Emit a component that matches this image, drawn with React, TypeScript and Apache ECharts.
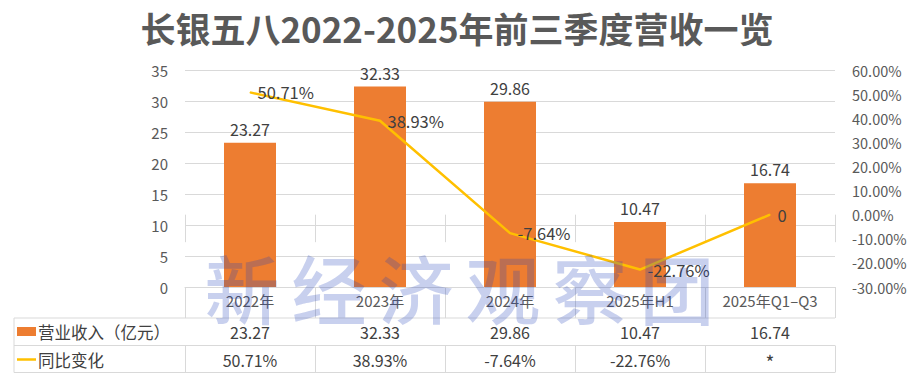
import React, { useEffect, useRef } from "react";
import * as echarts from "echarts";

const TITLE = "长银五八2022-2025年前三季度营收一览";
const WATERMARK = "新经济观察团";
const categories = ["2022年", "2023年", "2024年", "2025年H1", "2025年Q1–Q3"];
const revenue = [23.27, 32.33, 29.86, 10.47, 16.74];
const growth = [50.71, 38.93, -7.64, -22.76, 0];
const growthPointLabels = ["50.71%", "38.93%", "-7.64%", "-22.76%", "0"];
const revenueTableRow = ["23.27", "32.33", "29.86", "10.47", "16.74"];
const growthTableRow = ["50.71%", "38.93%", "-7.64%", "-22.76%", "*"];
const seriesNames = ["营业收入（亿元）", "同比变化"];

const FONT = "'Noto Sans CJK SC', 'Noto Sans', sans-serif";
const GRID_COLOR = "#d9d9d9";
const AXIS_TEXT = "#595959";
const LABEL_TEXT = "#404040";
const BAR_COLOR = "#ED7D31";
const LINE_COLOR = "#FFC000";

export default function App() {
  const ref = useRef<HTMLDivElement>(null);
  useEffect(() => {
    if (!ref.current) return;
    const chart = echarts.init(ref.current, null, { renderer: "svg" });
    const tableLeft = 14;
    const tableRight = 835;
    const rowLines = [318, 345.5, 372.5];

    const watermark = WATERMARK.split("").map((ch, i) => ({
      type: "text",
      x: 242 + i * 87,
      y: 286,
      z: 100,
      silent: true,
      style: {
        text: ch,
        fontSize: 75,
        fontWeight: 500,
        fontFamily: FONT,
        fill: "rgba(35,67,187,0.25)",
        textAlign: "center",
        textVerticalAlign: "middle",
      },
    }));

    const graphics: any[] = [
      ...rowLines.map((y) => ({
        type: "line",
        shape: { x1: tableLeft, y1: y, x2: tableRight, y2: y },
        style: { stroke: GRID_COLOR, lineWidth: 1 },
      })),
      {
        type: "line",
        shape: { x1: tableLeft, y1: rowLines[0], x2: tableLeft, y2: rowLines[2] },
        style: { stroke: GRID_COLOR, lineWidth: 1 },
      },
      {
        type: "rect",
        shape: { x: 17, y: 327, width: 19, height: 9 },
        style: { fill: BAR_COLOR },
      },
      {
        type: "line",
        shape: { x1: 17, y1: 359.5, x2: 36, y2: 359.5 },
        style: { stroke: LINE_COLOR, lineWidth: 2.5 },
      },
      {
        type: "text",
        x: 38,
        y: 332,
        style: {
          text: seriesNames[0],
          fontSize: 16.5,
          fontFamily: FONT,
          fill: LABEL_TEXT,
          textVerticalAlign: "middle",
        },
      },
      {
        type: "text",
        x: 38,
        y: 359.5,
        style: {
          text: seriesNames[1],
          fontSize: 16.5,
          fontFamily: FONT,
          fill: LABEL_TEXT,
          textVerticalAlign: "middle",
        },
      },
      ...watermark,
    ];

    const tick = (len: number) => ({
      show: true,
      interval: 0,
      length: len,
      lineStyle: { color: GRID_COLOR, width: 1 },
    });

    chart.setOption({
      animation: false,
      textStyle: { fontFamily: FONT },
      title: {
        text: TITLE,
        left: "center",
        top: 5,
        textStyle: { fontSize: 35, fontWeight: "bold", color: AXIS_TEXT, fontFamily: FONT },
      },
      grid: { left: 185, right: 79, top: 70, bottom: 91, containLabel: false },
      xAxis: [
        {
          type: "category",
          data: categories,
          axisLine: { lineStyle: { color: GRID_COLOR, width: 1 } },
          axisTick: tick(31),
          axisLabel: { fontSize: 15, color: AXIS_TEXT, margin: 6, interval: 0 },
        },
        {
          type: "category",
          position: "bottom",
          offset: 31,
          data: revenueTableRow,
          axisLine: { show: false },
          axisTick: tick(27.5),
          axisLabel: { fontSize: 16, color: LABEL_TEXT, margin: 6, interval: 0 },
        },
        {
          type: "category",
          position: "bottom",
          offset: 58.5,
          data: growthTableRow,
          axisLine: { show: false },
          axisTick: tick(27),
          axisLabel: {
            fontSize: 16,
            color: LABEL_TEXT,
            margin: 6,
            interval: 0,
            formatter: (v: string) => (v === "*" ? "{big|*}" : v),
            rich: { big: { fontSize: 19, color: LABEL_TEXT, fontFamily: FONT } },
          },
        },
      ],
      yAxis: [
        {
          type: "value",
          min: 0,
          max: 35,
          interval: 5,
          axisLine: { show: false },
          axisTick: { show: false },
          splitLine: { lineStyle: { color: GRID_COLOR, width: 1 } },
          axisLabel: { fontSize: 15, color: AXIS_TEXT, margin: 17 },
        },
        {
          type: "value",
          min: -30,
          max: 60,
          interval: 10,
          axisLine: { show: false },
          axisTick: { show: false },
          splitLine: { show: false },
          axisLabel: {
            fontSize: 14.5,
            color: AXIS_TEXT,
            margin: 17,
            formatter: (v: number) => v.toFixed(2) + "%",
          },
        },
      ],
      series: [
        {
          name: seriesNames[0],
          type: "bar",
          data: revenue,
          barWidth: 52,
          itemStyle: { color: BAR_COLOR },
          label: {
            show: true,
            position: "top",
            distance: 6,
            fontSize: 16,
            color: LABEL_TEXT,
            formatter: (p: any) => revenue[p.dataIndex].toFixed(2),
          },
        },
        {
          name: seriesNames[1],
          type: "line",
          yAxisIndex: 1,
          data: growth,
          symbol: "circle",
          symbolSize: 1,
          showSymbol: true,
          itemStyle: { color: LINE_COLOR },
          lineStyle: { color: LINE_COLOR, width: 2.5 },
          label: {
            show: true,
            position: "right",
            distance: 7,
            fontSize: 16.5,
            color: LABEL_TEXT,
            formatter: (p: any) => growthPointLabels[p.dataIndex],
          },
          z: 5,
        },
      ],
      graphic: { elements: graphics },
    });
    return () => chart.dispose();
  }, []);
  return (
    <div
      ref={ref}
      style={{ position: "fixed", left: 0, top: 0, width: 914, height: 378, background: "#fff" }}
    />
  );
}
